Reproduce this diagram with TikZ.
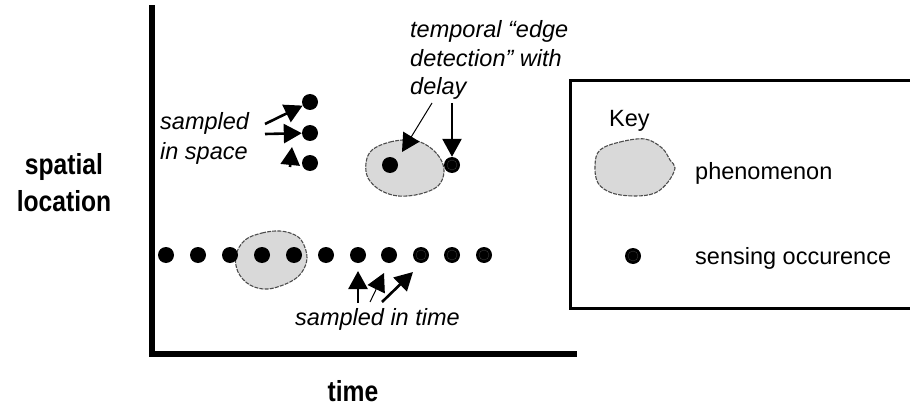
\documentclass[tikz,border=0pt]{standalone}
\usepackage{fontspec}
\setmainfont{Liberation Sans}
\newfontfamily\axisfont[FakeStretch=0.85]{Liberation Sans}
\usetikzlibrary{arrows.meta}
\tikzset{
  txt/.style={inner sep=0pt, anchor=base west, font=\fontsize{23.5}{28}\selectfont},
  itxt/.style={txt, font=\fontsize{23.5}{28}\selectfont\itshape},
  axlabel/.style={inner sep=0pt, anchor=base, font=\axisfont\bfseries\fontsize{29}{34}\selectfont},
  dot/.style={circle, fill=black, minimum size=16pt, inner sep=0pt},
  ringdot/.style={dot, path picture={\draw[gray!45!black, line width=0.4pt] (path picture bounding box.center) circle (5pt);}},
  blob/.style={fill=gray!30, draw=black!70, dash pattern=on 4pt off 1.2pt, line width=1.1pt},
  arr/.style={-{Triangle[length=18pt 0,width=19pt 0]}, line width=2.6pt},
  thinarr/.style={arr, line width=1pt},
  axis/.style={line width=5.5pt, line cap=rect},
}
\begin{document}
\begin{tikzpicture}[x=1pt,y=-1pt]
\useasboundingbox (0,0) rectangle (910,409);

% axes
\draw[axis] (152,8) -- (152,354) -- (574,354);

% axis labels
\node[axlabel] (ylab1) at (64,175) {spatial};
\node[axlabel] (ylab2) at (64,211) {location};
\node[axlabel] (xlab) at (353,401) {time};

% phenomena
\draw[blob] plot[smooth cycle, tension=0.6] coordinates {(245,240) (262,233) (280,231) (295,235) (303,243) (307,258) (302,272) (290,282) (268,289) (250,285) (238,272) (236,255)};
\draw[blob] plot[smooth cycle, tension=0.6] coordinates {(372,150) (390,142) (412,140) (428,146) (440,158) (444,172) (438,186) (420,194) (398,196) (380,190) (368,178) (366,163)};

% bottom row of sensing occurrences
\foreach \i/\x in {1/166,2/198,3/230,4/262,5/294,6/326,7/358,8/389}
  \node[dot] (t\i) at (\x,255) {};
\foreach \i/\x in {9/421,10/452,11/484}
  \node[ringdot] (t\i) at (\x,255) {};

% spatial samples
\node[dot] (s1) at (310,102) {};
\node[dot] (s2) at (310,133) {};
\node[dot] (s3) at (310,163) {};

% edge detection dots
\node[dot] (e1) at (390,165) {};
\node[ringdot] (e2) at (452,165) {};

% texts
\node[itxt] (sp1) at (160,130) {sampled};
\node[itxt] (sp2) at (160,159) {in space};
\node[itxt] (tm) at (295,325) {sampled in time};
\node[itxt] (ed1) at (410,38) {temporal “edge};
\node[itxt] (ed2) at (410,66.5) {detection” with};
\node[itxt] (ed3) at (410,95) {delay};

% arrows: sampled in space
\coordinate (a1) at (265,124);
\coordinate (a2) at (265,134);
\coordinate (a3) at (290,167);
\coordinate (a3t) at (292,147);
\draw[arr] (a1) -- (s1);
\draw[arr] (a2) -- (s2);
\draw[arr] (a3) -- (a3t);

% arrows: sampled in time
\coordinate (b1) at (358,303);
\coordinate (b1t) at (358,271);
\coordinate (b2) at (370,302);
\coordinate (b2t) at (384,273);
\coordinate (b3) at (382,302);
\coordinate (b3t) at (413,272);
\draw[arr] (b1) -- (b1t);
\draw[thinarr] (b2) -- (b2t);
\draw[arr] (b3) -- (b3t);

% arrows: edge detection
\coordinate (c1) at (432,103);
\coordinate (c1t) at (402,152);
\coordinate (c2) at (452,103);
\draw[thinarr] (c1) -- (c1t);
\draw[arr] (c2) -- (e2);

% key
\draw[line width=3pt] (914,81) -- (570,81) -- (570,308) -- (914,308);
\node[txt] (key) at (609,127) {Key};
\draw[blob] plot[smooth cycle, tension=0.6] coordinates {(600,150) (620,142) (645,139) (662,148) (670,160) (675,168) (668,182) (655,193) (635,196) (612,193) (598,183) (595,165)};
\node[txt] (kph) at (695,179) {phenomenon};
\node[ringdot] (kdot) at (633,256) {};
\node[txt] (kso) at (695,264) {sensing occurence};
\end{tikzpicture}
\end{document}
